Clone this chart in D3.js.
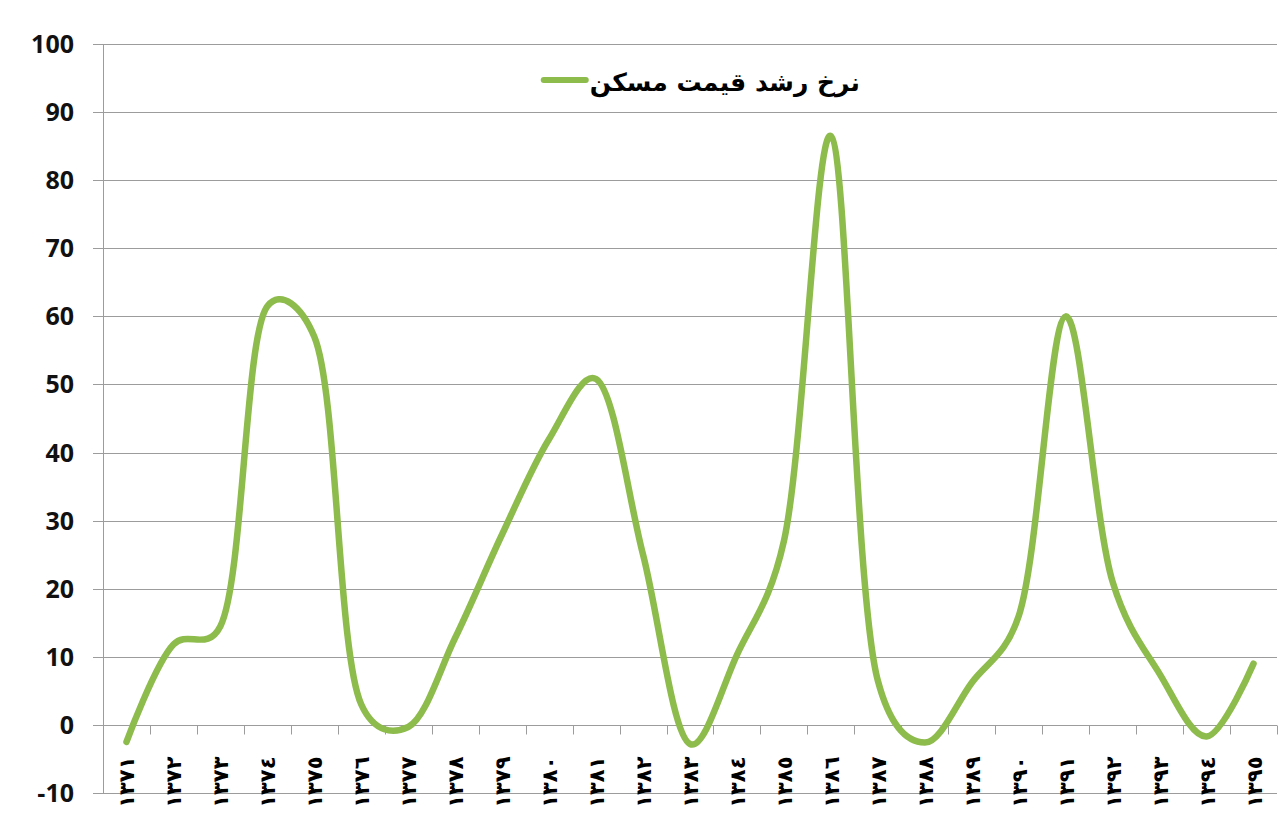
<!DOCTYPE html>
<html>
<head>
<meta charset="utf-8">
<script src="https://cdn.jsdelivr.net/npm/d3@7"></script>
<style>
  html, body { margin: 0; padding: 0; background: #fff; }
  svg { display: block; }
</style>
</head>
<body>
<svg id="chart" width="1280" height="838"></svg>
<script>
const years = ['١٣٧١','١٣٧٢','١٣٧٣','١٣٧٤','١٣٧٥','١٣٧٦','١٣٧٧','١٣٧٨','١٣٧٩','١٣٨٠',
               '١٣٨١','١٣٨٢','١٣٨٣','١٣٨٤','١٣٨٥','١٣٨٦','١٣٨٧','١٣٨٨','١٣٨٩','١٣٩٠',
               '١٣٩١','١٣٩٢','١٣٩٣','١٣٩٤','١٣٩٥'];
const growth = [-2.5, 11.8, 14.5, 61.5, 57, 3, -0.3, 12.8, 28, 42,
                50.8, 25, -2.8, 10.3, 27, 86.5, 6.5, -2.6, 6.2, 16,
                60, 21, 7.5, -1.7, 9];
const yTicks = [-10, 0, 10, 20, 30, 40, 50, 60, 70, 80, 90, 100];
const seriesName = 'نرخ رشد قیمت مسکن';

const plotLeft = 103, plotRight = 1277, plotTop = 44, plotBottom = 793;
const green = '#8dbb4c', grid = '#9c9c9c';

const svg = d3.select('#chart');
const x = d3.scaleBand().domain(years).range([plotLeft, plotRight]).padding(0);
const y = d3.scaleLinear().domain([-10, 100]).range([plotBottom, plotTop]);

// gridlines
svg.append('g').selectAll('line').data(yTicks).join('line')
  .attr('x1', plotLeft - 10).attr('x2', plotRight)
  .attr('y1', d => Math.round(y(d)) + 0.5).attr('y2', d => Math.round(y(d)) + 0.5)
  .attr('stroke', grid).attr('stroke-width', 1);

// y axis line
svg.append('line').attr('x1', plotLeft + 0.5).attr('x2', plotLeft + 0.5)
  .attr('y1', y(100)).attr('y2', y(-10)).attr('stroke', grid);

// y labels
svg.append('g').selectAll('text').data(yTicks).join('text')
  .attr('x', 74).attr('y', d => y(d)).attr('dy', '0.36em')
  .attr('text-anchor', 'end')
  .attr('font-family', '"Open Sans", sans-serif').attr('font-weight', 700)
  .attr('font-size', 25).attr('fill', '#111')
  .text(d => d);

// x axis at 0
const y0 = Math.round(y(0)) + 0.5;
svg.append('line').attr('x1', plotLeft).attr('x2', plotRight).attr('y1', y0).attr('y2', y0)
  .attr('stroke', grid);
const bounds = years.map(d => x(d)).concat([plotRight]);
svg.append('g').selectAll('line').data(bounds.slice(1)).join('line')
  .attr('x1', d => Math.round(d) + 0.5).attr('x2', d => Math.round(d) + 0.5)
  .attr('y1', y0).attr('y2', y0 + 9).attr('stroke', grid);

// x labels rotated
svg.append('g').selectAll('text').data(years).join('text')
  .attr('transform', d => `translate(${x(d) + x.bandwidth() / 2 + 8},${y0 + 31}) rotate(-90)`)
  .attr('text-anchor', 'end')
  .attr('font-family', '"DejaVu Sans", sans-serif').attr('font-weight', 700)
  .attr('font-size', 21).attr('fill', '#000')
  .text(d => d);

// line
const line = d3.line()
  .x((d, i) => x(years[i]) + x.bandwidth() / 2)
  .y(d => y(d))
  .curve(d3.curveCatmullRom.alpha(0.3));
svg.append('path').datum(growth)
  .attr('d', line)
  .attr('fill', 'none').attr('stroke', green).attr('stroke-width', 6.5)
  .attr('stroke-linecap', 'round').attr('stroke-linejoin', 'round');

// legend
const lt = svg.append('text')
  .attr('x', 860).attr('y', 82).attr('dy', '0.35em')
  .attr('text-anchor', 'end')
  .attr('font-family', '"DejaVu Sans", sans-serif').attr('font-weight', 700)
  .attr('font-size', 25).attr('fill', '#000')
  .text(seriesName);
const tl = lt.node().getComputedTextLength();
const textLeft = 860 - tl;
svg.append('line').attr('x1', textLeft - 46).attr('x2', textLeft - 4)
  .attr('y1', 80).attr('y2', 80)
  .attr('stroke', green).attr('stroke-width', 6).attr('stroke-linecap', 'round');
</script>
</body>
</html>
